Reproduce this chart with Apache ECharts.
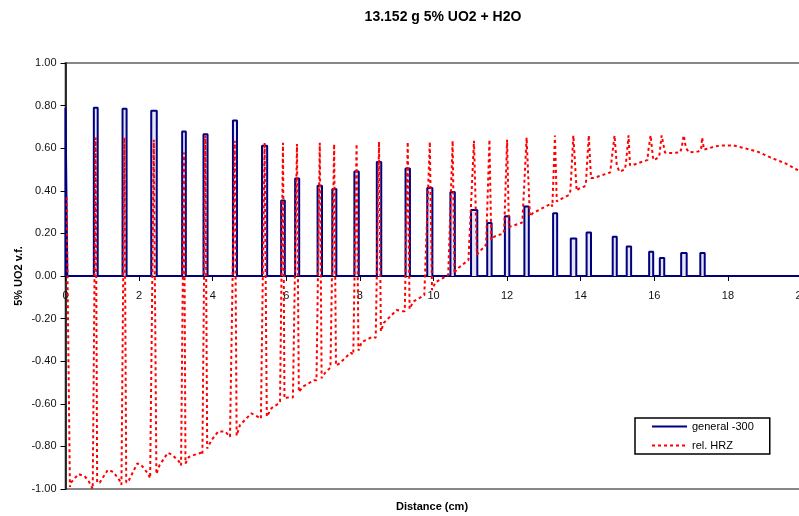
<!DOCTYPE html>
<html>
<head>
<meta charset="utf-8">
<script src="https://cdn.jsdelivr.net/npm/echarts@6/dist/echarts.min.js"></script>
<style>html,body{margin:0;padding:0;background:#fff;}#c{width:799px;height:516px;}</style>
</head>
<body>
<div id="c"></div>
<script>
// Blue series "general -300": rectangular pulses (start cm, end cm, height)
var pulseStart  = [0.00, 0.77, 1.55, 2.33, 3.17, 3.75, 4.55, 5.34, 5.86, 6.24, 6.85, 7.25, 7.85, 8.46, 9.24, 9.83, 10.46, 11.02, 11.46, 11.94, 12.47, 13.25, 13.73, 14.16, 14.87, 15.25, 15.86, 16.15, 16.73, 17.25];
var pulseEnd    = [0.05, 0.875, 1.66, 2.48, 3.27, 3.86, 4.66, 5.48, 5.96, 6.35, 6.97, 7.36, 7.97, 8.58, 9.36, 9.97, 10.58, 11.19, 11.58, 12.06, 12.59, 13.36, 13.88, 14.28, 14.98, 15.37, 15.97, 16.27, 16.88, 17.37];
var pulseHeight = [0.79, 0.79, 0.785, 0.776, 0.678, 0.665, 0.73, 0.612, 0.354, 0.458, 0.424, 0.408, 0.491, 0.535, 0.505, 0.413, 0.394, 0.31, 0.249, 0.281, 0.326, 0.295, 0.176, 0.204, 0.184, 0.138, 0.114, 0.085, 0.108, 0.108];

// Red series "rel. HRZ"
var relX = [0.03, 0.12, 0.15, 0.35, 0.52, 0.62,
  0.74, 0.82, 0.86, 0.93, 1.15, 1.30, 1.47,
  1.52, 1.60, 1.65, 1.72, 1.95, 2.05, 2.25,
  2.30, 2.40, 2.47, 2.55, 2.78, 2.90, 3.08,
  3.14, 3.22, 3.26, 3.35, 3.50, 3.68,
  3.72, 3.80, 3.85, 3.97, 4.15, 4.34, 4.47,
  4.52, 4.60, 4.65, 4.74, 5.05, 5.22,
  5.31, 5.41, 5.47, 5.60, 5.78,
  5.83, 5.91, 5.95, 6.05, 6.18,
  6.21, 6.29, 6.34, 6.45, 6.75,
  6.82, 6.91, 6.96, 7.05, 7.20,
  7.23, 7.30, 7.35, 7.45, 7.75,
  7.82, 7.91, 7.96, 8.05, 8.35,
  8.43, 8.52, 8.57, 8.65, 9.00, 9.15,
  9.22, 9.30, 9.35, 9.45, 9.75,
  9.80, 9.90, 9.96, 10.05, 10.40,
  10.43, 10.52, 10.57, 10.62, 10.95,
  11.00, 11.10, 11.18, 11.25, 11.40,
  11.43, 11.52, 11.57, 11.65, 11.90,
  11.92, 12.00, 12.05, 12.10, 12.40,
  12.42, 12.53, 12.62, 12.70, 13.20,
  13.23, 13.30, 13.35, 13.45, 13.68,
  13.72, 13.80, 13.89, 13.95, 14.10,
  14.14, 14.22, 14.28, 14.35, 14.80,
  14.84, 14.92, 14.98, 15.05, 15.20,
  15.23, 15.30, 15.34, 15.40, 15.82,
  15.83, 15.90, 15.97, 16.05, 16.13,
  16.14, 16.20, 16.29, 16.40, 16.70,
  16.74, 16.80, 16.86, 16.95, 17.20,
  17.27, 17.30, 17.35, 17.40, 17.65, 17.83, 18.15, 18.46, 18.83, 19.19, 19.55, 19.87, 20.00];
var relY = [0.37, -0.99, -0.97, -0.93, -0.94, -0.96,
  -1.00, 0.65, -0.97, -0.97, -0.91, -0.92, -0.96,
  -0.98, 0.65, -0.97, -0.96, -0.88, -0.885, -0.93,
  -0.95, 0.64, -0.93, -0.89, -0.83, -0.84, -0.87,
  -0.89, 0.58, -0.88, -0.85, -0.84, -0.83,
  -0.84, 0.66, -0.81, -0.77, -0.73, -0.73, -0.755,
  -0.76, 0.635, -0.75, -0.70, -0.645, -0.66,
  -0.67, 0.626, -0.66, -0.62, -0.60,
  -0.59, 0.625, -0.575, -0.57, -0.57,
  -0.57, 0.62, -0.545, -0.52, -0.49,
  -0.49, 0.625, -0.48, -0.455, -0.43,
  -0.43, 0.62, -0.42, -0.41, -0.36,
  -0.37, 0.62, -0.35, -0.31, -0.285,
  -0.29, 0.63, -0.26, -0.22, -0.16, -0.165,
  -0.165, 0.63, -0.155, -0.12, -0.09,
  -0.097, 0.63, -0.066, -0.03, 0.005,
  0.00, 0.635, 0.01, 0.03, 0.075,
  0.07, 0.635, 0.10, 0.115, 0.14,
  0.15, 0.64, 0.17, 0.185, 0.20,
  0.216, 0.64, 0.23, 0.23, 0.25,
  0.27, 0.65, 0.28, 0.295, 0.34,
  0.326, 0.66, 0.35, 0.36, 0.38,
  0.40, 0.66, 0.40, 0.41, 0.42,
  0.43, 0.66, 0.46, 0.46, 0.486,
  0.49, 0.66, 0.52, 0.49, 0.50,
  0.53, 0.66, 0.52, 0.52, 0.545,
  0.58, 0.66, 0.545, 0.55, 0.56,
  0.57, 0.66, 0.58, 0.577, 0.58,
  0.60, 0.66, 0.60, 0.58, 0.585,
  0.593, 0.65, 0.593, 0.595, 0.608, 0.613, 0.613, 0.60, 0.582, 0.554, 0.53, 0.50, 0.49];

var xTicks = [0, 2, 4, 6, 8, 10, 12, 14, 16, 18, 20];
var yTicks = [-1, -0.8, -0.6, -0.4, -0.2, 0, 0.2, 0.4, 0.6, 0.8, 1];

var blueData = [];
for (var i = 0; i < pulseStart.length; i++) {
  blueData.push([pulseStart[i], 0], [pulseStart[i], pulseHeight[i]], [pulseEnd[i], pulseHeight[i]], [pulseEnd[i], 0]);
}
blueData.push([xTicks[xTicks.length - 1], 0]);
var redData = relX.map(function (x, k) { return [x, relY[k]]; });

var FONT = 'Liberation Sans, Arial, sans-serif';
var chart = echarts.init(document.getElementById('c'), null, {renderer: 'canvas'});
chart.setOption({
  animation: false,
  backgroundColor: '#fff',
  textStyle: {fontFamily: FONT},
  title: [
    {text: '13.152 g 5% UO2 + H2O', left: 443, top: 10, textAlign: 'center', padding: 0,
     textStyle: {fontFamily: FONT, fontSize: 14, fontWeight: 'bold', color: '#000'}},
    {text: 'Distance (cm)', left: 432, top: 501, textAlign: 'center', padding: 0,
     textStyle: {fontFamily: FONT, fontSize: 11, fontWeight: 'bold', color: '#000'}}
  ],
  grid: {left: 65.5, top: 63, width: 736, height: 426, outerBoundsMode: 'none', containLabel: false,
         show: true, borderColor: '#888', borderWidth: 2, backgroundColor: 'transparent'},
  legend: {
    orient: 'vertical', left: 635, top: 418,
    backgroundColor: '#fff', borderColor: '#000', borderWidth: 1.5, borderRadius: 0,
    padding: [3, 16, 3, 16], itemWidth: 35, itemHeight: 12, itemGap: 8,
    itemStyle: {opacity: 0},
    textStyle: {fontFamily: FONT, fontSize: 11, color: '#000'},
    data: ['general -300', 'rel. HRZ']
  },
  xAxis: {
    type: 'value', min: xTicks[0], max: xTicks[xTicks.length - 1], interval: 2,
    position: 'bottom', offset: -213,
    axisLine: {onZero: false, lineStyle: {color: '#000', width: 1}},
    axisTick: {show: true, inside: false, length: 5, lineStyle: {color: '#000'}},
    axisLabel: {margin: 14, fontSize: 11, color: '#111', fontFamily: FONT, hideOverlap: false},
    splitLine: {show: false}
  },
  yAxis: {
    type: 'value', min: yTicks[0], max: yTicks[yTicks.length - 1], interval: 0.2,
    name: '5% UO2 v.f.', nameLocation: 'middle', nameRotate: 90, nameGap: 41, nameMoveOverlap: false,
    nameTextStyle: {fontFamily: FONT, fontSize: 11, fontWeight: 'bold', color: '#000'},
    axisLine: {show: true, lineStyle: {color: '#000', width: 1.5}},
    axisTick: {show: true, inside: false, length: 5, lineStyle: {color: '#000'}},
    axisLabel: {margin: 9, fontSize: 11, color: '#111', fontFamily: FONT,
      formatter: function (v) { return v.toFixed(2); }},
    splitLine: {show: false}
  },
  series: [
    {name: 'general -300', type: 'line', data: blueData, symbol: 'none', z: 3,
     lineStyle: {color: '#000080', width: 2}, itemStyle: {color: '#000080'},
     areaStyle: {color: 'rgba(0,0,128,0.15)', origin: 0}},
    {name: 'rel. HRZ', type: 'line', data: redData, symbol: 'none', z: 4,
     lineStyle: {color: '#ff0000', width: 2, type: [3, 3]}, itemStyle: {color: '#ff0000'}}
  ]
});
</script>
</body>
</html>
